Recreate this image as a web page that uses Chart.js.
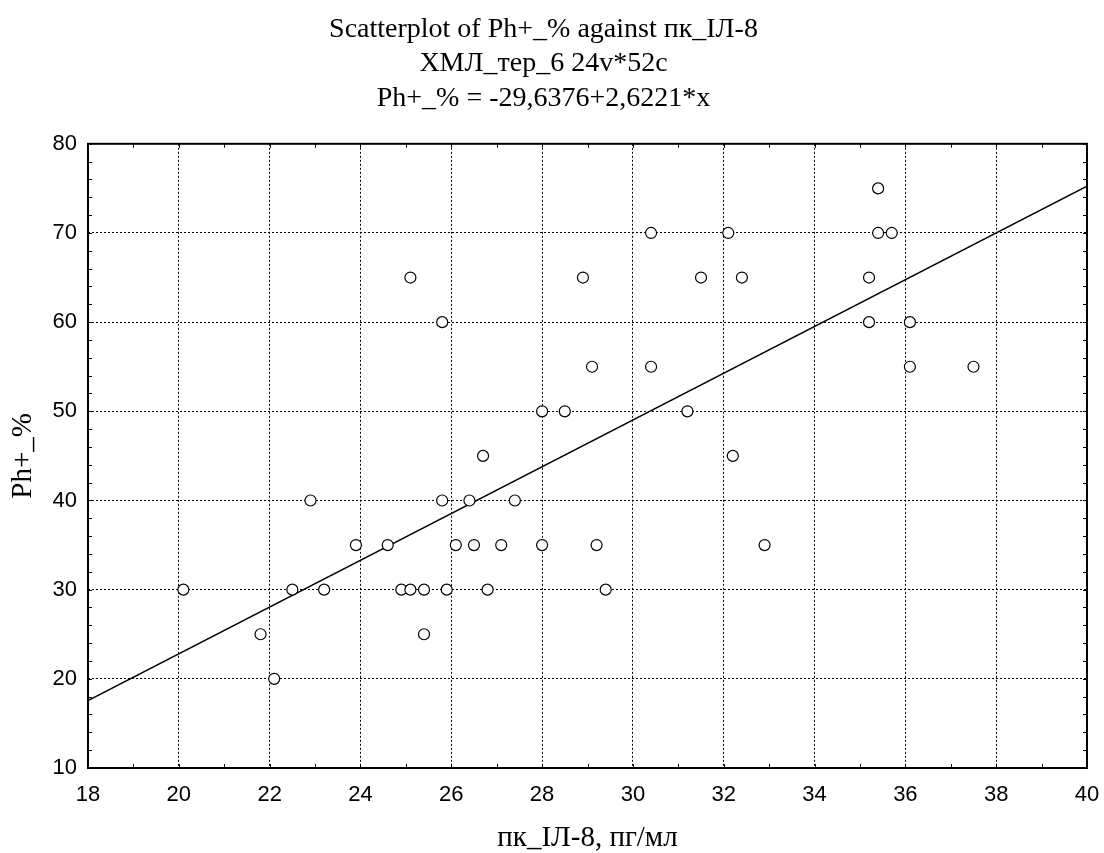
<!DOCTYPE html>
<html>
<head>
<meta charset="utf-8">
<script src="https://cdn.jsdelivr.net/npm/chart.js@4/dist/chart.umd.min.js"></script>
<style>
html,body{margin:0;padding:0;background:#fff;}
#wrap{width:1104px;height:853px;}
</style>
</head>
<body>
<div id="wrap"><canvas id="c" width="1104" height="853"></canvas></div>
<script>
// ---- data ----
const xValues = [25.1,30.4,32.1,28.9,31.5,32.4,25.8,29.1,30.4,28.0,28.5,31.2,26.7,32.2,35.4,35.4,35.7,35.2,35.2,36.1,36.1,37.5,22.9,23.9,24.6,20.1,22.5,23.2,24.9,25.1,25.4,21.8,25.4,22.1,25.8,26.4,27.4,26.1,26.5,27.1,28.0,29.2,32.9,25.9,26.8,29.4];
const yValues = [65,70,70,65,65,65,60,55,55,50,50,50,45,45,75,70,70,65,60,60,55,55,40,35,35,30,30,30,30,30,30,25,25,20,40,40,40,35,35,35,35,35,35,30,30,30];
const fitX = [18, 40];
const fitY = [17.56, 75.25];
const titleLines = ["Scatterplot of Ph+_% against пк_ІЛ-8", "ХМЛ_тер_6 24v*52c"];
const subtitleText = "Ph+_% = -29,6376+2,6221*x";
const xTitle = "пк_ІЛ-8, пг/мл";
const yTitle = "Ph+_%";
const xRange = [18, 40];
const yRange = [10, 80];

const points = xValues.map((x, i) => ({x: x, y: yValues[i]}));
const fitPoints = fitX.map((x, i) => ({x: x, y: fitY[i]}));

const serif = "'Liberation Serif', 'Times New Roman', serif";
const sans = "'Liberation Sans', Arial, sans-serif";

const framePlugin = {
  id: 'frame',
  afterDatasetsDraw(chart) {
    const {ctx, chartArea: a, scales} = chart;
    const xs = scales.x, ys = scales.y;
    ctx.save();
    ctx.strokeStyle = '#000';
    ctx.lineWidth = 1;
    const len = 4;
    ctx.beginPath();
    for (let v = xRange[0]; v <= xRange[1]; v += 1) {
      const px = Math.round(xs.getPixelForValue(v)) + 0.5;
      ctx.moveTo(px, a.bottom); ctx.lineTo(px, a.bottom - len);
      ctx.moveTo(px, a.top); ctx.lineTo(px, a.top + len);
    }
    for (let v = yRange[0]; v <= yRange[1]; v += 2) {
      const py = Math.round(ys.getPixelForValue(v)) + 0.5;
      ctx.moveTo(a.left, py); ctx.lineTo(a.left + len, py);
      ctx.moveTo(a.right, py); ctx.lineTo(a.right - len, py);
    }
    ctx.stroke();
    ctx.lineWidth = 2;
    ctx.strokeRect(a.left, a.top, a.right - a.left, a.bottom - a.top);
    ctx.restore();
  }
};

new Chart(document.getElementById('c'), {
  type: 'scatter',
  data: {
    datasets: [
      {
        label: 'fit',
        data: fitPoints,
        showLine: true,
        borderColor: '#000',
        borderWidth: 1.5,
        pointRadius: 0,
        fill: false,
        order: 2
      },
      {
        label: 'Ph+_%',
        data: points,
        pointRadius: 5.5,
        pointBackgroundColor: '#fff',
        pointBorderColor: '#000',
        pointBorderWidth: 1.2,
        order: 1
      }
    ]
  },
  options: {
    responsive: false,
    animation: false,
    layout: {padding: {left: 0, right: 17, top: 0, bottom: 0}},
    plugins: {
      legend: {display: false},
      tooltip: {enabled: false},
      title: {
        display: true,
        text: titleLines,
        color: '#000',
        font: {family: serif, size: 28, weight: 'normal', lineHeight: 1.2},
        padding: {top: 13, bottom: 0}
      },
      subtitle: {
        display: true,
        text: subtitleText,
        color: '#000',
        font: {family: serif, size: 28, weight: 'normal', lineHeight: 1.2},
        padding: {top: 2, bottom: 28}
      }
    },
    scales: {
      x: {
        type: 'linear',
        min: xRange[0], max: xRange[1],
        afterFit(s) { s.height = 85; s.paddingLeft = 0; s.paddingRight = 0; },
        ticks: {stepSize: 2, color: '#000', font: {family: sans, size: 22}, padding: 14, maxRotation: 0},
        grid: {color: '#000', lineWidth: 1, drawTicks: false},
        border: {display: false, dash: [2, 2]},
        title: {display: true, text: xTitle, color: '#000', font: {family: serif, size: 29, lineHeight: 1.0}, padding: {top: 0, bottom: 0}}
      },
      y: {
        type: 'linear',
        min: yRange[0], max: yRange[1],
        afterFit(s) { s.width = 88; s.paddingTop = 0; s.paddingBottom = 0; },
        ticks: {stepSize: 10, color: '#000', font: {family: sans, size: 22}, padding: 11},
        grid: {color: '#000', lineWidth: 1, drawTicks: false},
        border: {display: false, dash: [2, 2]},
        title: {display: true, text: yTitle, color: '#000', font: {family: serif, size: 29, lineHeight: 1.0}, padding: {top: 9, bottom: 0}}
      }
    }
  },
  plugins: [framePlugin]
});
</script>
</body>
</html>
